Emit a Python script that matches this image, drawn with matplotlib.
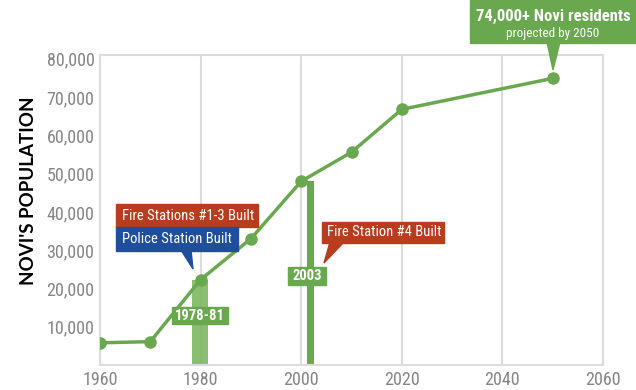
import matplotlib
matplotlib.use("Agg")
import matplotlib.pyplot as plt
from matplotlib import font_manager
from matplotlib.patches import Rectangle, Polygon

# data
years = [1960, 1970, 1980, 1990, 2000, 2010, 2020, 2050]
population = [5800, 6100, 22300, 33000, 48000, 55600, 66800, 74900]
x_ticks = [1960, 1980, 2000, 2020, 2040, 2060]
y_ticks = [10000, 20000, 30000, 40000, 50000, 60000, 70000, 80000]
bar_years = [1979.8, 2001.8]
bar_heights = [22300, 48000]
bar_widths = [3.2, 1.3]
bar_labels = ["1978-81", "2003"]

GREEN = "#6aa84f"
RED = "#b83c1e"
BLUE = "#1f4e9c"
GRID = "#dcdcdc"

installed = {f.name for f in font_manager.fontManager.ttflist}
font = "DejaVu Sans"
for cand in ["Roboto Condensed", "Liberation Sans Narrow", "Open Sans Condensed", "Liberation Sans"]:
    if cand in installed:
        font = cand
        break
plt.rcParams["font.family"] = [font, "DejaVu Sans"]

W, H = 636, 390
fig = plt.figure(figsize=(W / 100, H / 100), dpi=100)
ax = fig.add_axes([100 / W, (H - 365) / H, 503 / W, 310 / H])

ax.set_xlim(1960, 2060)
ax.set_ylim(0, 81000)

# bars under the line
ax.bar(bar_years[0], bar_heights[0], width=bar_widths[0], color="#7db862", alpha=0.9, zorder=2)
ax.bar(bar_years[1], bar_heights[1], width=bar_widths[1], color=GREEN, zorder=2)

ax.plot(years, population, color=GREEN, lw=2.5, marker="o", ms=8, zorder=3)

ax.set_xticks(x_ticks)
ax.set_yticks(y_ticks)
ax.set_yticklabels([f"{v:,}" for v in y_ticks])
ax.tick_params(length=0, labelsize=13, labelcolor="#858585", pad=4)
ax.grid(axis="x", color=GRID, lw=1.5, zorder=0)
for s in ax.spines.values():
    s.set_color(GRID)
    s.set_linewidth(1.5)

fig.text(29 / W, 1 - 191 / H, "NOVI'S POPULATION", rotation=90, fontsize=13.5,
         fontweight="bold", color="black", ha="center", va="center",
         family=["Lato", "DejaVu Sans"])


def fx(px):
    return px / W


def fy(py):
    return 1 - py / H


def box(x0, y0, x1, y1, color):
    fig.patches.append(Rectangle((fx(x0), fy(y1)), fx(x1) - fx(x0), fy(y0) - fy(y1),
                                 transform=fig.transFigure, color=color, zorder=5))


def tri(pts, color):
    fig.patches.append(Polygon([(fx(a), fy(b)) for a, b in pts], closed=True,
                               transform=fig.transFigure, color=color, zorder=5))


# projection callout
box(470, 0, 636, 43, GREEN)
tri([(547, 42), (560, 42), (553, 70)], GREEN)
fig.text(fx(553), fy(16), "74,000+ Novi residents", color="white", fontsize=12,
         fontweight="bold", ha="center", va="center", zorder=6)
fig.text(fx(553), fy(33), "projected by 2050", color="white", fontsize=9.5,
         ha="center", va="center", zorder=6)

# 1978-81 callouts
box(116, 204, 258, 227, RED)
box(116, 227, 238, 251, BLUE)
tri([(181, 250), (191, 250), (193, 269)], BLUE)
fig.text(fx(122), fy(215.5), "Fire Stations #1-3 Built", color="white", fontsize=10.5,
         ha="left", va="center", zorder=6)
fig.text(fx(122), fy(239), "Police Station Built", color="white", fontsize=10.5,
         ha="left", va="center", zorder=6)

# 2003 callout
box(322, 222, 444, 243, RED)
tri([(330, 242), (344, 242), (324, 263)], RED)
fig.text(fx(327), fy(232.5), "Fire Station #4 Built", color="white", fontsize=10.5,
         ha="left", va="center", zorder=6)

# year tags on the bars
box(172, 307, 228, 324, GREEN)
fig.text(fx(200), fy(315.5), bar_labels[0], color="white", fontsize=10.5,
         fontweight="bold", ha="center", va="center", zorder=6)
box(288, 267, 326, 285, GREEN)
fig.text(fx(307), fy(276), bar_labels[1], color="white", fontsize=10.5,
         fontweight="bold", ha="center", va="center", zorder=6)

fig.savefig("out.png", dpi=100)
